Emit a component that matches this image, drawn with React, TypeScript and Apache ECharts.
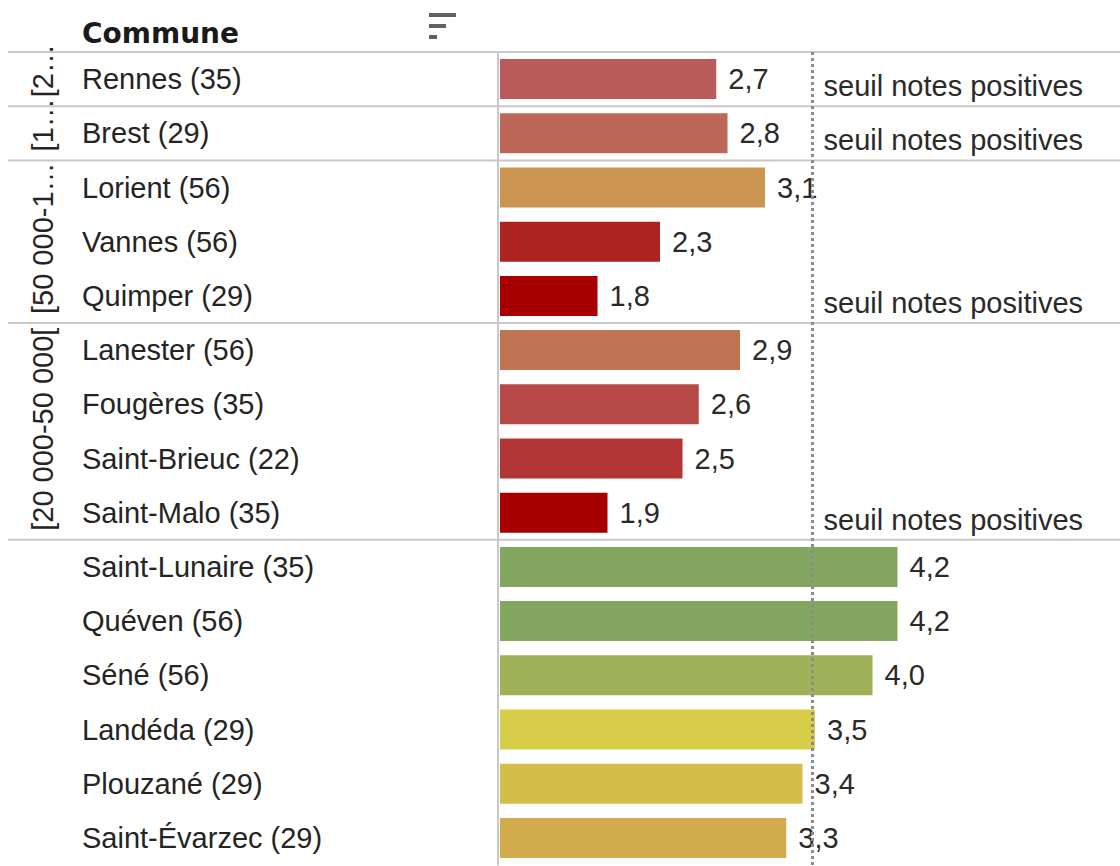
import React, { useEffect, useRef } from "react";
import * as echarts from "echarts";

// ---- data ----
const CITIES = [
  "Rennes (35)",
  "Brest (29)",
  "Lorient (56)",
  "Vannes (56)",
  "Quimper (29)",
  "Lanester (56)",
  "Fougères (35)",
  "Saint-Brieuc (22)",
  "Saint-Malo (35)",
  "Saint-Lunaire (35)",
  "Quéven (56)",
  "Séné (56)",
  "Landéda (29)",
  "Plouzané (29)",
  "Saint-Évarzec (29)",
];
const NOTES = [2.73, 2.82, 3.12, 2.28, 1.78, 2.92, 2.59, 2.46, 1.86, 4.18, 4.18, 3.98, 3.52, 3.42, 3.29];
// population groups: [first row, last row, visible label]
const GROUP_START = [0, 1, 2, 5, 9];
const GROUP_END = [0, 1, 4, 8, 14];
const GROUP_LABELS = ["[2…", "[1…", "[50 000-1…", "[20 000-50 000[", ""];
const THRESHOLD = 3.5;
const THRESHOLD_TEXT = "seuil notes positives";
const THRESHOLD_ROWS = ["Rennes (35)", "Brest (29)", "Quimper (29)", "Saint-Malo (35)"];
const HEADER = "Commune";

// ---- styles ----
const BAR_COLORS = [
  "#b95b5b", "#bd6757", "#cb9450", "#ae2222", "#a80000",
  "#c17454", "#b74848", "#b23636", "#a80000",
  "#83a661", "#83a661", "#9fb258", "#d8cd48", "#d5bd4a", "#d1ab4c",
];
const FONT = "'Liberation Sans', Arial, sans-serif";
const TEXT = "#252423";
const LINE = "#c8c8c8";

export default function App() {
  const ref = useRef<HTMLDivElement>(null);
  useEffect(() => {
    if (!ref.current) return;
    const chart = echarts.init(ref.current, null, { renderer: "svg" });
    const fmt = (v: number) => v.toFixed(1).replace(".", ",");
    chart.setOption({
      animation: false,
      backgroundColor: "#ffffff",
      grid: { left: 500, top: 52, width: 500, height: 813, containLabel: false },
      xAxis: {
        type: "value",
        min: 1,
        max: 5,
        startValue: 1,
        show: false,
        splitLine: { show: false },
      },
      yAxis: {
        type: "category",
        inverse: true,
        data: CITIES,
        offset: 2,
        axisLine: { show: true, lineStyle: { color: LINE, width: 2 } },
        axisTick: { show: false },
        splitLine: { show: false },
        axisLabel: {
          align: "left",
          margin: 416,
          fontSize: 29,
          fontFamily: FONT,
          color: TEXT,
          padding: [0, 0, 15, 0],
        },
      },
      graphic: [
        {
          type: "text",
          x: 82,
          y: 33,
          style: {
            text: HEADER,
            font: "bold 28px 'DejaVu Sans', sans-serif",
            fill: "#1a1a1a",
            verticalAlign: "middle",
            align: "left",
          },
        },
        { type: "rect", shape: { x: 429, y: 13, width: 27, height: 4 }, style: { fill: "#606060" } },
        { type: "rect", shape: { x: 429, y: 24, width: 17, height: 4 }, style: { fill: "#606060" } },
        { type: "rect", shape: { x: 429, y: 35, width: 8, height: 4 }, style: { fill: "#606060" } },
      ],
      series: [
        {
          type: "custom",
          coordinateSystem: "cartesian2d",
          silent: true,
          clip: false,
          z: 1,
          data: GROUP_START.map((s, i) => ({ value: [1, s, GROUP_END[i]], name: GROUP_LABELS[i] })),
          encode: { x: 0, y: 1 },
          renderItem: (params: any, api: any) => {
            const i = params.dataIndex;
            const band = api.size([0, 1])[1];
            const yTop = api.coord([1, GROUP_START[i]])[1] - band / 2;
            const yBot = api.coord([1, GROUP_END[i]])[1] + band / 2;
            return {
              type: "group",
              children: [
                {
                  type: "line",
                  shape: { x1: 8, y1: yTop, x2: 1120, y2: yTop },
                  style: { stroke: LINE, lineWidth: 2 },
                },
                {
                  type: "text",
                  x: 43,
                  y: yBot - 9,
                  rotation: Math.PI / 2,
                  style: {
                    text: GROUP_LABELS[i],
                    fontSize: 29,
                    fontFamily: FONT,
                    fill: TEXT,
                    align: "left",
                    verticalAlign: "middle",
                  },
                },
              ],
            };
          },
        },
        {
          type: "bar",
          data: NOTES.map((v, i) => ({ value: v, itemStyle: { color: BAR_COLORS[i] } })),
          barWidth: 40,
          clip: true,
          z: 2,
          label: {
            show: true,
            position: "right",
            distance: 12,
            fontSize: 29,
            fontFamily: FONT,
            color: "#2a2a2a",
            formatter: (p: any) => fmt(p.value),
          },
          markLine: {
            silent: true,
            symbol: "none",
            z: 5,
            label: { show: false },
            lineStyle: { color: "#8c8c8c", width: 3, type: [3, 3] },
            data: [{ xAxis: THRESHOLD }],
          },
        },
        {
          type: "custom",
          coordinateSystem: "cartesian2d",
          silent: true,
          clip: false,
          z: 6,
          data: THRESHOLD_ROWS.map((c) => [THRESHOLD, c]),
          encode: { x: 0, y: 1 },
          renderItem: (params: any, api: any) => {
            const p = api.coord([api.value(0), api.value(1)]);
            return {
              type: "text",
              x: p[0] + 11,
              y: p[1] + 7,
              style: {
                text: THRESHOLD_TEXT,
                fontSize: 29,
                fontFamily: FONT,
                fill: "#2a2a2a",
                align: "left",
                verticalAlign: "middle",
              },
            };
          },
        },
      ],
    });
    return () => chart.dispose();
  }, []);
  return (
    <div
      ref={ref}
      style={{ position: "fixed", left: 0, top: 0, width: 1120, height: 866, background: "#fff" }}
    />
  );
}
